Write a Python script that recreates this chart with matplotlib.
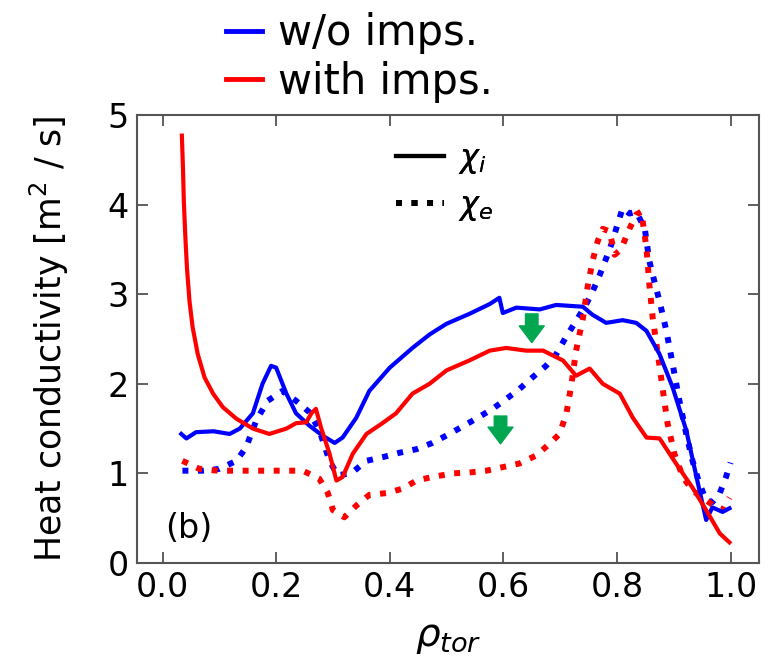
import numpy as np
import matplotlib
matplotlib.use('Agg')
import matplotlib.pyplot as plt
from matplotlib.lines import Line2D

# # data
x_chii_wo = [0.033, 0.042, 0.059, 0.09, 0.118, 0.136, 0.159, 0.176, 0.191, 0.2, 0.218, 0.235,
             0.259, 0.282, 0.303, 0.317, 0.341, 0.364, 0.4, 0.44, 0.47, 0.5, 0.54, 0.576,
             0.593, 0.599, 0.623, 0.664, 0.693, 0.74, 0.757, 0.781, 0.81, 0.834, 0.852,
             0.875, 0.898, 0.922, 0.94, 0.957, 0.968, 0.986, 0.998]
chii_wo = [1.44, 1.39, 1.46, 1.47, 1.44, 1.5, 1.67, 2.0, 2.2, 2.18, 1.89, 1.67,
           1.53, 1.42, 1.34, 1.4, 1.62, 1.92, 2.18, 2.4, 2.55, 2.67, 2.78, 2.89,
           2.96, 2.79, 2.85, 2.83, 2.88, 2.86, 2.77, 2.68, 2.71, 2.68, 2.59,
           2.33, 1.96, 1.48, 0.96, 0.48, 0.62, 0.57, 0.61]

x_chii_w = [0.034, 0.036, 0.0375, 0.040, 0.043, 0.0475, 0.053, 0.062, 0.074, 0.089, 0.106,
            0.130, 0.159, 0.188, 0.218, 0.235,
            0.253, 0.262, 0.27, 0.279, 0.294, 0.306, 0.317, 0.335, 0.359, 0.387, 0.411,
            0.44, 0.47, 0.5, 0.54, 0.576, 0.605, 0.64, 0.67, 0.705, 0.728, 0.752, 0.775,
            0.805, 0.828, 0.852, 0.875, 0.904, 0.933, 0.957, 0.981, 0.998]
chii_w = [4.77, 4.40, 4.03, 3.66, 3.29, 2.92, 2.63, 2.33, 2.07, 1.89, 1.74,
          1.61, 1.50, 1.44, 1.5, 1.56,
          1.57, 1.67, 1.72, 1.51, 1.22, 0.92, 0.96, 1.22, 1.44, 1.56, 1.67,
          1.89, 2.0, 2.15, 2.26, 2.37, 2.4, 2.37, 2.37, 2.26, 2.09, 2.17, 2.0,
          1.89, 1.62, 1.4, 1.39, 1.11, 0.84, 0.59, 0.33, 0.23]

x_chie_wo = [0.035, 0.07, 0.1, 0.13, 0.147, 0.165, 0.185, 0.211, 0.235, 0.259, 0.276,
             0.294, 0.308, 0.332, 0.359, 0.387, 0.417, 0.447, 0.475, 0.505, 0.552,
             0.581, 0.605, 0.628, 0.651, 0.675, 0.693, 0.711, 0.728, 0.746, 0.757,
             0.77, 0.781, 0.792, 0.8, 0.81, 0.822, 0.834, 0.849, 0.857, 0.866, 0.875,
             0.887, 0.898, 0.91, 0.922, 0.933, 0.945, 0.957, 0.968, 0.981, 0.992, 1.0]
chie_wo = [1.03, 1.03, 1.05, 1.14, 1.29, 1.59, 1.81, 1.92, 1.81, 1.68, 1.48,
           1.14, 0.98, 1.0, 1.14, 1.18, 1.23, 1.27, 1.34, 1.44, 1.61,
           1.72, 1.83, 1.94, 2.07, 2.2, 2.33, 2.53, 2.7, 2.89, 3.03,
           3.22, 3.4, 3.59, 3.76, 3.96, 3.9, 3.92, 3.73, 3.37, 3.14, 2.92,
           2.59, 2.22, 1.81, 1.44, 1.14, 0.89, 0.7, 0.68, 0.78, 0.96, 1.12]

x_chie_w = [0.035, 0.065, 0.097, 0.13, 0.188, 0.247, 0.276, 0.291, 0.3, 0.32, 0.341,
            0.364, 0.394, 0.423, 0.447, 0.475, 0.511, 0.54, 0.57, 0.599, 0.628, 0.658,
            0.681, 0.699, 0.711, 0.72, 0.728, 0.74, 0.748, 0.757, 0.766, 0.775, 0.787,
            0.796, 0.807, 0.822, 0.834, 0.843, 0.852, 0.857, 0.863, 0.872, 0.881,
            0.889, 0.901, 0.916, 0.933, 0.957, 0.975, 0.986, 0.998]
chie_w = [1.14, 1.05, 1.03, 1.03, 1.03, 1.03, 0.94, 0.78, 0.59, 0.51, 0.64,
          0.76, 0.78, 0.83, 0.92, 0.96, 1.0, 1.01, 1.03, 1.07, 1.11, 1.2,
          1.33, 1.44, 1.67, 2.0, 2.37, 2.73, 3.07, 3.37, 3.59, 3.73, 3.7,
          3.44, 3.5, 3.73, 3.89, 3.92, 3.51, 3.11, 2.73, 2.33, 1.92,
          1.56, 1.22, 0.96, 0.81, 0.7, 0.62, 0.59, 0.73]

# arrows (x, y start, y end)
arrow_x = [0.65, 0.595]
arrow_y0 = [2.78, 1.64]
arrow_y1 = [2.46, 1.33]

xticks = [0.0, 0.2, 0.4, 0.6, 0.8, 1.0]
yticks = [0, 1, 2, 3, 4, 5]

blue = '#0000ff'
red = '#ff0000'
green = '#00a650'
fs = 24

fig = plt.figure(figsize=(7.77, 6.59), dpi=100)
ax = fig.add_axes([0.1763, 0.1457, 0.8005, 0.6798])

dot = (0, (1, 1.6))
ax.plot(x_chie_wo, chie_wo, color=blue, lw=4.3, ls=dot, dash_capstyle='butt')
ax.plot(x_chie_w, chie_w, color=red, lw=4.3, ls=dot, dash_capstyle='butt')
ax.plot(x_chii_wo, chii_wo, color=blue, lw=3)
ax.plot(x_chii_w, chii_w, color=red, lw=3)

for xa, y0, y1 in zip(arrow_x, arrow_y0, arrow_y1):
    ax.annotate('', xy=(xa, y1), xytext=(xa, y0),
                arrowprops=dict(arrowstyle='simple,head_width=0.9,head_length=0.6,tail_width=0.45',
                                color=green, mutation_scale=20, shrinkA=0, shrinkB=0))

ax.text(0.004, 0.39, '(b)', fontsize=fs, ha='left', va='center')

ax.set_xlim(-0.045, 1.05)
ax.set_ylim(0, 5)
ax.set_xticks(xticks)
ax.set_yticks(yticks)
ax.set_xticklabels(['%.1f' % v for v in xticks])
ax.tick_params(direction='in', length=8, width=1.2, top=True, right=True, labelsize=fs, pad=6,
               color='#444444')
for s in ax.spines.values():
    s.set_color('#555555')
    s.set_linewidth(1.5)

ax.set_xlabel(r'$\rho_{tor}$', fontsize=28, labelpad=10)
ax.set_ylabel(r'Heat conductivity [m$^2$ / s]', fontsize=25, labelpad=26)

# line style legend (inside)
style_handles = [Line2D([], [], color='k', lw=3),
                 Line2D([], [], color='k', lw=4.3, ls=dot, dash_capstyle='butt')]
leg2 = ax.legend(style_handles, [r'$\chi_i$', r'$\chi_e$'], loc='upper left',
                 bbox_to_anchor=(0.37, 1.002), frameon=False, fontsize=fs - 1,
                 handlelength=1.5, handletextpad=0.45, labelspacing=0.45)
ax.add_artist(leg2)

# colour legend (above axes)
color_handles = [Line2D([], [], color=blue, lw=3.5), Line2D([], [], color=red, lw=3.5)]
fig.legend(color_handles, ['w/o imps.', 'with imps.'], loc='upper left',
           bbox_to_anchor=(0.243, 1.038), frameon=False, fontsize=30,
           handlelength=0.85, handletextpad=0.4, labelspacing=0.15)

fig.savefig("out.png", dpi=100)
plt.close(fig)
